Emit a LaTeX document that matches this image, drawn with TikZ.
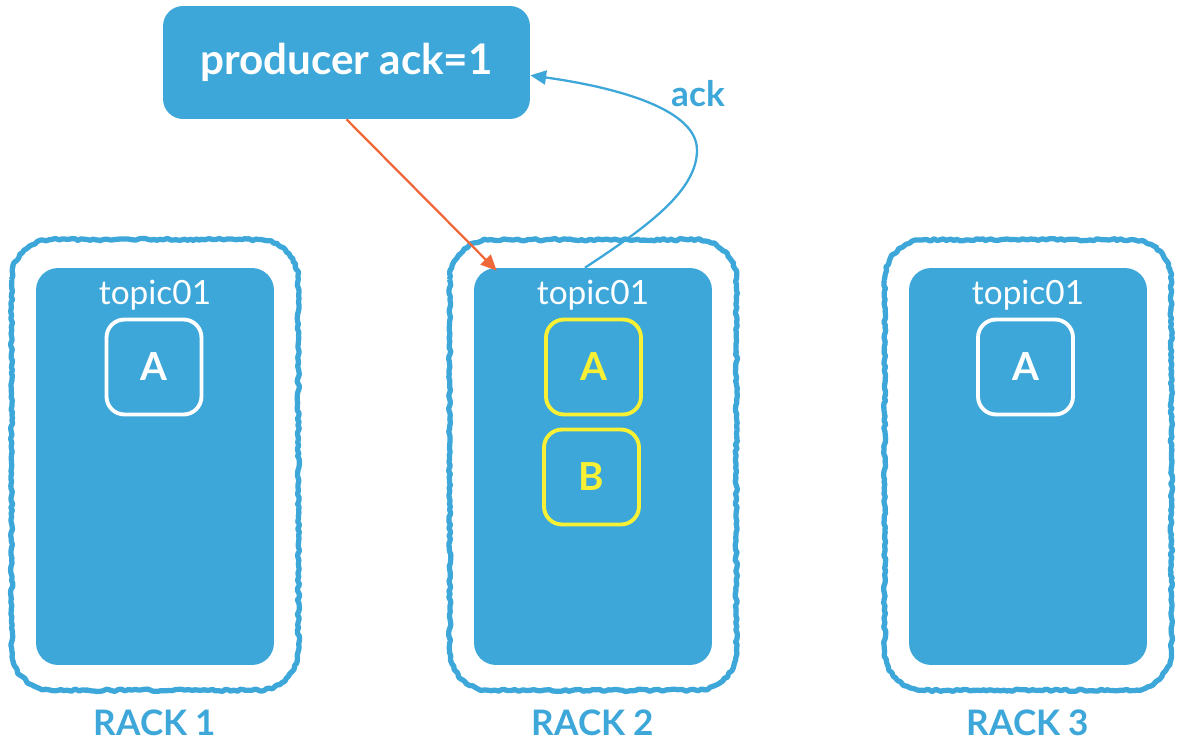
\documentclass[tikz,border=0pt]{standalone}
\usepackage{fontspec}
\setmainfont{Lato}
\usetikzlibrary{calc,arrows.meta,decorations.pathmorphing}

\definecolor{rackblue}{HTML}{3DA7D9}
\definecolor{partyellow}{HTML}{F7F035}
\definecolor{sendorange}{HTML}{F0683A}

\tikzset{
    rack/.style={minimum width=5.72cm, minimum height=9cm, inner sep=0pt},
    rackline/.style={draw=rackblue, line width=3pt, line join=round, rounded corners=0.5pt,
        decoration={random steps, segment length=1.6pt, amplitude=0.7pt}},
    topicbox/.style={fill=rackblue, rounded corners=0.44cm,
        minimum width=4.76cm, minimum height=7.94cm},
    part/.style={draw=white, line width=2.2pt, rounded corners=0.36cm,
        minimum size=1.9cm, text=white, font=\bfseries\fontsize{22}{26}\selectfont},
    leader/.style={part, draw=partyellow, text=partyellow},
    racklabel/.style={text=rackblue, font=\bfseries\fontsize{20}{24}\selectfont},
}

\begin{document}
\begin{tikzpicture}[x=0.02cm, y=-0.02cm]
    \useasboundingbox (0,0) rectangle (1178,750);

    \node[fill=rackblue, rounded corners=0.4cm, minimum width=7.34cm, minimum height=2.26cm,
        text=white, font=\bfseries\fontsize{24}{28}\selectfont] (producer) at (346.5,62.5) {producer ack=1};

    \foreach \i/\x in {1/155, 2/593, 3/1028} {
        \node[rack] (rack\i) at (\x,465) {};
        \draw[rackline] decorate {[rounded corners=0.8cm] (rack\i.north west) rectangle (rack\i.south east)};
        \node[topicbox] (topic\i) at (\x,466.5) {};
        \node[text=white, font=\fontsize{19}{23}\selectfont] (name\i) at (\x,295) {topic01};
        \node[racklabel] (label\i) at (\x,723) {RACK \i};
    }

    \node[part] (partA1) at (154,367) {A};
    \node[leader] (partA2) at (593.5,367) {A};
    \node[leader] (partB2) at (591.5,477) {B};
    \node[part] (partA3) at (1025.5,367) {A};

    % send and ack
    \draw[sendorange, line width=1.3pt, -{Triangle[length=9pt,width=8pt]}]
        (producer.south) -- ($(topic2.north west)+(23,3)$);
    \draw[rackblue, line width=1.3pt, -{Triangle[length=9pt,width=8pt]}]
        ($(topic2.north)+(-8,0)$) .. controls (650,225) and (697,190) .. (697,150)
        .. controls (697,105) and (600,85) .. (producer.-4);
    \node[text=rackblue, font=\bfseries\fontsize{20}{24}\selectfont] (ack) at (698,94) {ack};
\end{tikzpicture}
\end{document}
